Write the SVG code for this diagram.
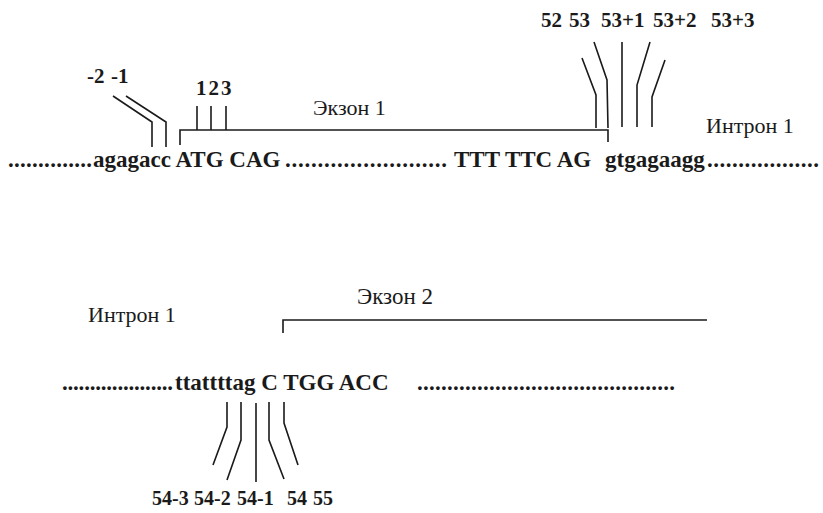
<svg xmlns="http://www.w3.org/2000/svg" width="823" height="513" viewBox="0 0 823 513">
<style>
.seq{font-family:"Liberation Serif","Times New Roman",serif;font-weight:bold;font-size:23px;fill:#1a1a1a}
.num{font-family:"Liberation Serif","Times New Roman",serif;font-weight:bold;font-size:21px;fill:#1a1a1a}
.lab{font-family:"Liberation Serif","Times New Roman",serif;font-size:22px;fill:#1a1a1a}
.ln{fill:none;stroke:#1a1a1a;stroke-width:1.6}
</style>
<rect width="823" height="513" fill="#ffffff"/>
<g id="sequence1">
<text class="seq" y="167"><tspan x="8" textLength="84" lengthAdjust="spacing">..............</tspan><tspan x="93">agagacc ATG CAG</tspan><tspan x="285" textLength="162" lengthAdjust="spacing">.........................</tspan><tspan x="454">TTT TTC AG</tspan><tspan x="605">gtgagaagg</tspan><tspan x="707" textLength="112" lengthAdjust="spacing">..................</tspan></text>
</g>
<g id="sequence2">
<text class="seq" y="390"><tspan x="62" textLength="111" lengthAdjust="spacing">....................</tspan><tspan x="175">ttattttag C TGG ACC</tspan><tspan x="417" textLength="258" lengthAdjust="spacing">...........................................</tspan></text>
</g>
<g id="exon1">
<path class="ln" d="M180,145 V130 H608 V142"/>
<text class="lab" x="313" y="115">Экзон 1</text>
</g>
<g id="intron1-top">
<text class="lab" x="706" y="133">Интрон 1</text>
</g>
<g id="exon2">
<path class="ln" d="M283,333 V320 H707"/>
<text class="lab" x="357" y="304" style="font-size:23px">Экзон 2</text>
</g>
<g id="intron1-bottom">
<text class="lab" x="88" y="322">Интрон 1</text>
</g>
<g id="labels-top-left">
<text class="num" x="87" y="83">-2</text>
<text class="num" x="111" y="83">-1</text>
<text class="num" x="196" y="95" letter-spacing="2">123</text>
</g>
<g id="labels-top-right">
<text class="num" x="541" y="27">52</text>
<text class="num" x="569" y="27">53</text>
<text class="num" x="601" y="27">53+1</text>
<text class="num" x="653" y="27">53+2</text>
<text class="num" x="711" y="27">53+3</text>
</g>
<g id="labels-bottom">
<text class="num" x="152" y="505" style="font-size:20px">54-3</text>
<text class="num" x="194" y="505" style="font-size:20px">54-2</text>
<text class="num" x="237" y="505" style="font-size:20px">54-1</text>
<text class="num" x="287" y="505" style="font-size:20px">54</text>
<text class="num" x="313" y="505" style="font-size:20px">55</text>
</g>
<g id="connectors">
<polyline class="ln" points="113,96 152,122 152,147"/>
<polyline class="ln" points="126,96 166,122 166,147"/>
<line class="ln" x1="197" y1="106" x2="197" y2="130"/>
<line class="ln" x1="211" y1="106" x2="211" y2="130"/>
<line class="ln" x1="226" y1="106" x2="226" y2="130"/>
<polyline class="ln" points="582,58 596,95 596,128"/>
<polyline class="ln" points="594,42 607,80 608,128"/>
<line class="ln" x1="622" y1="42" x2="622" y2="127"/>
<polyline class="ln" points="650,42 637,85 637,127"/>
<polyline class="ln" points="665,60 652,97 652,127"/>
<polyline class="ln" points="227,402 227,427 213,465"/>
<polyline class="ln" points="241,402 241,440 227,480"/>
<line class="ln" x1="256" y1="403" x2="256" y2="482"/>
<polyline class="ln" points="269,402 269,440 284,479"/>
<polyline class="ln" points="284,402 284,423 298,465"/>
</g>
</svg>
